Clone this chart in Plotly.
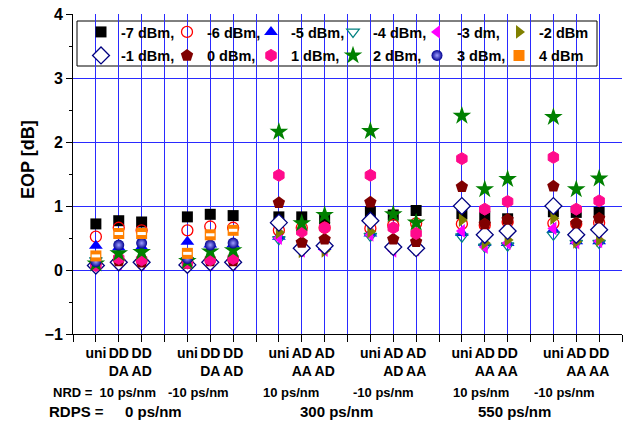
import plotly.graph_objects as go

# x positions of the 18 configurations (6 groups of 3)
x_pos = [1, 2, 3, 5, 6, 7, 9, 10, 11, 13, 14, 15, 17, 18, 19, 21, 22, 23]

tick_labels = {
    1: "uni", 2: "DD<br>DA", 3: "DD<br>AD",
    5: "uni", 6: "DD<br>DA", 7: "DD<br>AD",
    9: "uni", 10: "AD<br>AA", 11: "AD<br>AD",
    13: "uni", 14: "AD<br>AD", 15: "AD<br>AA",
    17: "uni", 18: "AD<br>AA", 19: "DD<br>AA",
    21: "uni", 22: "AD<br>AA", 23: "DD<br>AA",
}

series_names = ["-7 dBm,", "-6 dBm,", "-5 dBm,", "-4 dBm,", "-3 dm,", "-2 dBm",
                "-1 dBm,", "0 dBm,", "1 dBm,", "2 dBm,", "3 dBm,", "4 dBm"]

p_m7 = [0.72, 0.77, 0.75, 0.83, 0.87, 0.85, 0.83, 0.83, 0.80, 0.91, 0.86, 0.93, 0.88, 0.83, 0.80, 0.91, 0.90, 0.90]
p_m6 = [0.52, 0.66, 0.62, 0.62, 0.68, 0.66, 0.62, 0.66, 0.66, 0.65, 0.70, 0.73, 0.72, 0.70, 0.75, 0.73, 0.72, 0.74]
p_m5 = [0.38, 0.35, 0.36, 0.44, 0.40, 0.40, 0.52, 0.36, 0.36, 0.57, 0.40, 0.40, 0.58, 0.42, 0.42, 0.63, 0.45, 0.45]
p_m4 = [0.15, 0.12, 0.12, 0.15, 0.12, 0.12, 0.48, 0.32, 0.32, 0.53, 0.33, 0.33, 0.52, 0.36, 0.38, 0.55, 0.42, 0.42]
p_m3 = [0.08, 0.10, 0.10, 0.10, 0.10, 0.10, 0.50, 0.30, 0.31, 0.55, 0.30, 0.32, 0.61, 0.36, 0.42, 0.65, 0.43, 0.45]
p_m2 = [0.10, 0.12, 0.12, 0.12, 0.12, 0.12, 0.59, 0.29, 0.30, 0.60, 0.35, 0.33, 0.78, 0.42, 0.47, 0.81, 0.44, 0.47]
p_m1 = [0.07, 0.12, 0.12, 0.08, 0.12, 0.12, 0.74, 0.34, 0.38, 0.77, 0.36, 0.34, 1.00, 0.55, 0.61, 1.00, 0.55, 0.63]
p_0 = [0.08, 0.14, 0.12, 0.10, 0.14, 0.14, 1.05, 0.43, 0.48, 1.06, 0.48, 0.44, 1.30, 0.72, 0.79, 1.31, 0.73, 0.81]
p_1 = [0.07, 0.18, 0.16, 0.11, 0.16, 0.18, 1.48, 0.60, 0.66, 1.48, 0.66, 0.57, 1.74, 0.95, 1.07, 1.76, 0.95, 1.08]
p_2 = [0.10, 0.26, 0.28, 0.14, 0.29, 0.31, 2.16, 0.73, 0.86, 2.17, 0.87, 0.74, 2.41, 1.26, 1.42, 2.39, 1.26, 1.43]
p_3 = [0.13, 0.39, 0.42, 0.18, 0.39, 0.42] + [None] * 12
p_4 = [0.22, 0.57, 0.57, 0.26, 0.55, 0.62] + [None] * 12

values = [p_m7, p_m6, p_m5, p_m4, p_m3, p_m2, p_m1, p_0, p_1, p_2, p_3, p_4]

nrd_labels = ["NRD =\u00a0\u00a010 ps/nm", "-10 ps/nm", "10 ps/nm", "-10 ps/nm", "10 ps/nm", "-10 ps/nm"]
rdps_labels = ["0 ps/nm", "300 ps/nm", "550 ps/nm"]

# styles
styles = [
    dict(symbol="square", size=11, color="#000000", line=dict(width=0)),
    dict(symbol="circle-open", size=11, color="#ff0000", line=dict(width=1.3, color="#ff0000")),
    dict(symbol="triangle-up", size=12, color="#0000ff", line=dict(width=0)),
    dict(symbol="triangle-down-open", size=11, color="#008080", line=dict(width=1.2, color="#008080")),
    dict(symbol="triangle-left", size=12, color="#ff00ff", line=dict(width=0)),
    dict(symbol="triangle-right", size=12, color="#808000", line=dict(width=0)),
    dict(symbol="diamond", size=13, color="#ffffff", line=dict(width=1.3, color="#000080")),
    dict(symbol="pentagon", size=13, color="#800000", line=dict(width=0)),
    dict(symbol="hexagon", size=12, color="#ff0a8c", line=dict(width=1, color="#ff0a8c")),
    dict(symbol="star", size=14, color="#008000", line=dict(width=0)),
    dict(symbol="circle", size=11, color="#000090", line=dict(width=0),
         gradient=dict(type="radial", color="#a0a0ff")),
    dict(symbol="square", size=11, color="#ff8000", line=dict(width=0)),
]
# legend entry widths (text part) so the columns line up like the reference
entry_w = [41, 39, 37, 39, 37, 60]

FONT = "Liberation Sans, Arial, sans-serif"
GRID = "#2a2aff"

# plot area geometry (px) for paper conversions
L, T, W, H = 73, 14, 549, 320


def px_x(px):
    return (px - L) / W


def px_y(py):
    return (T + H - py) / H


fig = go.Figure()
for i, (name, vals, st) in enumerate(zip(series_names, values, styles)):
    fig.add_trace(go.Scatter(x=x_pos, y=vals, mode="markers", name=name,
                             marker=st, cliponaxis=False,
                             legend="legend" if i < 6 else "legend2",
                             legendwidth=entry_w[i % 6]))
    if i == 11:
        # white band of the half-filled orange square
        fig.add_trace(go.Scatter(x=x_pos, y=vals, mode="markers", showlegend=False,
                                 hoverinfo="skip", cliponaxis=False,
                                 marker=dict(symbol="line-ew", size=6,
                                             line=dict(width=3, color="white"))))

tickvals = list(range(0, 25))
ticktext = [tick_labels.get(v, "") for v in tickvals]

leg_common = dict(orientation="h", xanchor="left", yanchor="top",
                  bgcolor="rgba(0,0,0,0)", borderwidth=0,
                  font=dict(family=FONT, size=14.5, weight="bold"),
                  itemwidth=30, tracegroupgap=0)

fig.update_layout(
    width=623, height=424,
    margin=dict(l=L, r=623 - L - W, t=T, b=424 - T - H),
    paper_bgcolor="white", plot_bgcolor="white",
    font=dict(family=FONT, color="black"),
    showlegend=True,
    legend=dict(x=px_x(81), y=px_y(16), **leg_common),
    legend2=dict(x=px_x(81), y=px_y(39.5), **leg_common),
    xaxis=dict(range=[0, 24], tickvals=tickvals, ticktext=ticktext, tickangle=0,
               tickfont=dict(family=FONT, size=14, weight="bold"),
               ticks="outside", ticklen=7, tickcolor="black", ticklabelstandoff=-1,
               showgrid=True, gridcolor=GRID, gridwidth=1, zeroline=False,
               showline=True, linecolor="black", linewidth=1, mirror=False),
    yaxis=dict(range=[-1, 4], tickvals=[-1, 0, 1, 2, 3, 4], ticks="outside", ticklen=6,
               tickcolor="black",
               tickfont=dict(family=FONT, size=16, weight="bold"),
               minor=dict(dtick=0.5, ticks="outside", ticklen=3, tickcolor="black", showgrid=False),
               showgrid=True, gridcolor=GRID, gridwidth=1, zeroline=False,
               showline=True, linecolor="black", linewidth=1, mirror=False),
    xaxis2=dict(range=[0, 24], overlaying="x", side="top", tickvals=tickvals,
                showticklabels=False, ticks="inside", ticklen=4, tickcolor="black",
                showgrid=False, zeroline=False, showline=True, linecolor="black", linewidth=1),
    yaxis2=dict(range=[-1, 4], overlaying="y", side="right", tickvals=[-1, 0, 1, 2, 3, 4],
                showticklabels=False, ticks="inside", ticklen=7, tickcolor="black",
                minor=dict(dtick=0.5, ticks="inside", ticklen=4, tickcolor="black", showgrid=False),
                showgrid=False, zeroline=False, showline=True, linecolor="black", linewidth=1),
)

# legend frame
fig.add_shape(type="rect", xref="paper", yref="paper",
              x0=px_x(77), x1=px_x(597), y0=px_y(66), y1=px_y(21),
              fillcolor="white", line=dict(color="black", width=1), layer="between")

# y-axis title
fig.add_annotation(x=px_x(28), y=px_y(160), xref="paper", yref="paper", text="EOP [dB]",
                   textangle=-90, showarrow=False, xanchor="center", yanchor="middle",
                   font=dict(family=FONT, size=18, weight="bold"))

# group annotations below the axis
nrd_x = [3.72, 5.48, 9.54, 13.56, 17.82, 21.49]
for i, (xx, txt) in enumerate(zip(nrd_x, nrd_labels)):
    fig.add_annotation(x=xx, y=px_y(392), xref="x", yref="paper", text=txt, showarrow=False,
                       xanchor="right" if i == 0 else "center", yanchor="middle",
                       font=dict(family=FONT, size=13, weight="bold"))

fig.add_annotation(x=px_x(47), y=px_y(411), xref="paper", yref="paper", text="RDPS =",
                   showarrow=False, xanchor="left", yanchor="middle",
                   font=dict(family=FONT, size=15, weight="bold"))
rdps_x = [3.5, 11.52, 19.3]
for xx, txt in zip(rdps_x, rdps_labels):
    fig.add_annotation(x=xx, y=px_y(411), xref="x", yref="paper", text=txt, showarrow=False,
                       xanchor="center", yanchor="middle",
                       font=dict(family=FONT, size=15, weight="bold"))

fig.write_html("out.html")
